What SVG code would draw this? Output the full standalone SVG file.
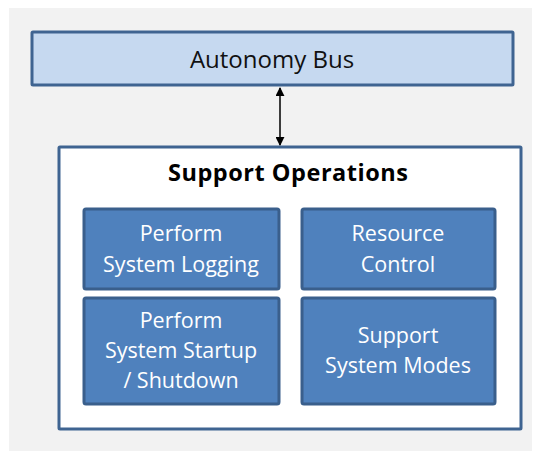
<svg xmlns="http://www.w3.org/2000/svg" width="541" height="451" viewBox="0 0 541 451">
  <defs>
    <marker id="arrow" viewBox="0 0 10 10" refX="9" refY="5" markerWidth="9" markerHeight="9" markerUnits="userSpaceOnUse" orient="auto-start-reverse">
      <path d="M0,0 L10,5 L0,10 z" fill="#000"/>
    </marker>
    <style>
      .bg { fill: #f2f2f2; }
      .bus { fill: #c6d9f0; stroke: #3f6491; stroke-width: 3; }
      .group { fill: #ffffff; stroke: #3f6491; stroke-width: 3; }
      .task { fill: #4f81bd; stroke: #3a5f8c; stroke-width: 3; }
      .label { font-family: "Open Sans", "Noto Sans", sans-serif; text-anchor: middle; }
      .dark { fill: #111; font-size: 24px; }
      .title { fill: #000; font-size: 23.5px; font-weight: bold; }
      .white { fill: #fff; font-size: 21.5px; }
      .link { stroke: #000; stroke-width: 1.5; fill: none; }
    </style>
  </defs>

  <rect class="bg" x="9" y="8" width="523" height="443"/>

  <g id="autonomy-bus">
    <rect class="bus" x="32" y="32" width="481" height="53" rx="1"/>
    <text class="label dark" x="272" y="68">Autonomy Bus</text>
  </g>

  <g id="support-operations">
    <rect class="group" x="59" y="147" width="462" height="282" rx="1"/>
    <text class="label title" x="288" y="181" textLength="240">Support Operations</text>
  </g>

  <g id="system-logging">
    <rect class="task" x="84" y="209" width="195" height="80" rx="2"/>
    <text class="label white" x="181" y="241">Perform</text>
    <text class="label white" x="181" y="272">System Logging</text>
  </g>

  <g id="resource-control">
    <rect class="task" x="302" y="209" width="193" height="80" rx="2"/>
    <text class="label white" x="398" y="241">Resource</text>
    <text class="label white" x="398" y="272">Control</text>
  </g>

  <g id="startup-shutdown">
    <rect class="task" x="84" y="298" width="195" height="106" rx="2"/>
    <text class="label white" x="181" y="328">Perform</text>
    <text class="label white" x="181" y="358">System Startup</text>
    <text class="label white" x="181" y="388">/ Shutdown</text>
  </g>

  <g id="system-modes">
    <rect class="task" x="302" y="298" width="193" height="106" rx="2"/>
    <text class="label white" x="398" y="343">Support</text>
    <text class="label white" x="398" y="373">System Modes</text>
  </g>

  <g id="connectors">
    <line class="link" x1="280" y1="88" x2="280" y2="145" marker-start="url(#arrow)" marker-end="url(#arrow)"/>
  </g>
</svg>
